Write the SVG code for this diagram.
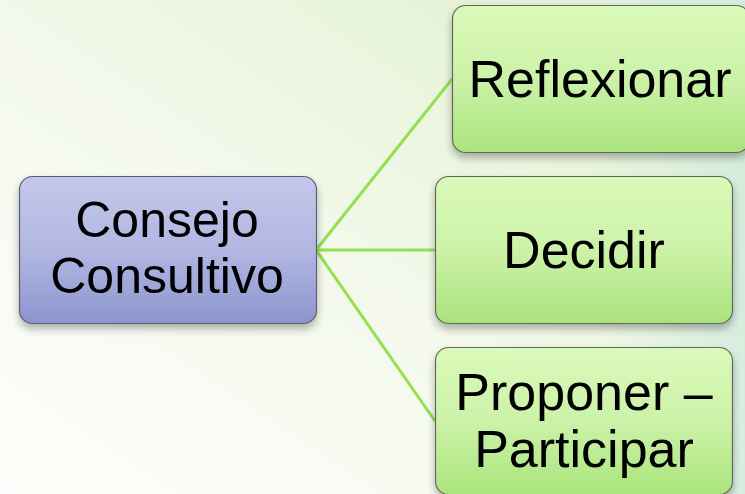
<svg xmlns="http://www.w3.org/2000/svg" width="745" height="494" viewBox="0 0 745 494">
<defs>
<linearGradient id="bg" x1="0" y1="1" x2="1" y2="0">
<stop offset="0" stop-color="#fdfefb"/>
<stop offset="0.45" stop-color="#f4f9ec"/>
<stop offset="0.8" stop-color="#e6f3d8"/>
<stop offset="1" stop-color="#dcefdc"/>
</linearGradient>
<linearGradient id="bgr" x1="0" y1="0" x2="1" y2="0">
<stop offset="0.8" stop-color="#d8eee0" stop-opacity="0"/>
<stop offset="1" stop-color="#d4ecde" stop-opacity="0.9"/>
</linearGradient>
<linearGradient id="purple" x1="0" y1="0" x2="0" y2="1">
<stop offset="0" stop-color="#c3c7ea"/>
<stop offset="0.5" stop-color="#b2b7e2"/>
<stop offset="1" stop-color="#8c95cd"/>
</linearGradient>
<linearGradient id="green" x1="0" y1="0" x2="0" y2="1">
<stop offset="0" stop-color="#dafab9"/>
<stop offset="0.5" stop-color="#ccf2a8"/>
<stop offset="1" stop-color="#aae47c"/>
</linearGradient>
<filter id="sh" x="-10%" y="-10%" width="120%" height="130%">
<feGaussianBlur in="SourceAlpha" stdDeviation="4"/>
<feOffset dy="5"/>
<feComponentTransfer><feFuncA type="linear" slope="0.3"/></feComponentTransfer>
<feMerge><feMergeNode/><feMergeNode in="SourceGraphic"/></feMerge>
</filter>
<style>
.box{stroke:#5f6a5c;stroke-width:1.2}
.pbox{stroke:#5a5f75;stroke-width:1.2}
.t{font-family:"Liberation Sans",Arial,sans-serif;font-size:52px;fill:#000;text-anchor:middle}
.c{stroke:#93e050;stroke-width:3;fill:none}
</style>
</defs>
<rect width="745" height="494" fill="url(#bg)"/>
<rect width="745" height="494" fill="url(#bgr)"/>
<g id="connectors">
<line class="c" x1="316" y1="250" x2="452" y2="79"/>
<line class="c" x1="316" y1="250" x2="435" y2="250"/>
<line class="c" x1="316" y1="250" x2="435" y2="421"/>
</g>
<g id="node-consejo">
<rect class="pbox" x="19.5" y="176.5" width="297" height="147" rx="13" fill="url(#purple)" filter="url(#sh)"/>
<text class="t" x="167" y="237" style="font-size:50px">Consejo</text>
<text class="t" x="167" y="293" style="font-size:50px">Consultivo</text>
</g>
<g id="node-reflexionar">
<rect class="box" x="452.5" y="5.5" width="297" height="147" rx="13" fill="url(#green)" filter="url(#sh)"/>
<text class="t" x="600" y="97">Reflexionar</text>
</g>
<g id="node-decidir">
<rect class="box" x="435.5" y="176.5" width="297" height="147" rx="13" fill="url(#green)" filter="url(#sh)"/>
<text class="t" x="584" y="268">Decidir</text>
</g>
<g id="node-proponer">
<rect class="box" x="435.5" y="347.5" width="297" height="147" rx="13" fill="url(#green)" filter="url(#sh)"/>
<text class="t" x="584" y="410">Proponer –</text>
<text class="t" x="584" y="467">Participar</text>
</g>
</svg>
